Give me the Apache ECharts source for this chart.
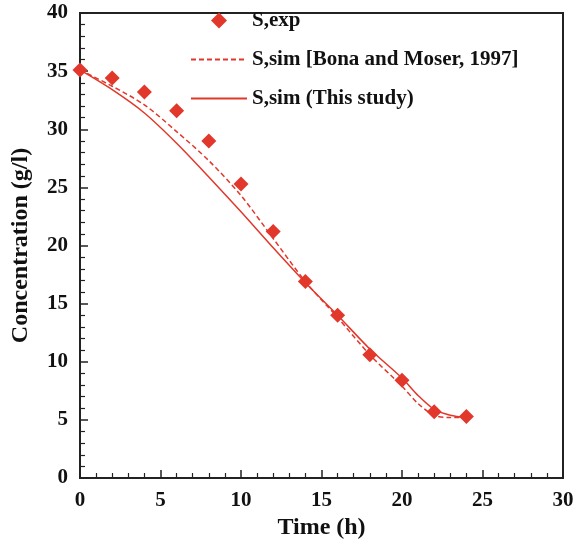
<!DOCTYPE html>
<html>
<head>
<meta charset="utf-8">
<script src="https://cdn.jsdelivr.net/npm/echarts@6/dist/echarts.min.js"></script>
<style>
  html, body { margin: 0; padding: 0; background: #fff; }
  #chart { width: 580px; height: 545px; }
</style>
</head>
<body>
<div id="chart"></div>
<script>
// experimental points
const expTime = [0, 2, 4, 6, 8, 10, 12, 14, 16, 18, 20, 22, 24];
const expConc = [35.1, 34.4, 33.2, 31.6, 29.0, 25.3, 21.2, 16.9, 14.0, 10.6, 8.4, 5.7, 5.3];

// simulated curves
const simTime = [0, 2, 4, 6, 8, 10, 12, 14, 16, 18, 20, 21, 22, 23, 24];
const simBona = [35.1, 33.7, 32.1, 29.8, 27.3, 24.3, 20.6, 16.9, 13.8, 10.6, 7.9, 6.4, 5.4, 5.2, 5.2];
const simStudy = [35.1, 33.4, 31.4, 28.8, 25.9, 22.9, 19.8, 16.8, 14.0, 11.1, 8.6, 7.1, 5.9, 5.4, 5.2];

const seriesNames = ['S,exp', 'S,sim [Bona and Moser, 1997]', 'S,sim (This study)'];

const red = '#e2372b';
const font = '"Liberation Serif", "Times New Roman", serif';

const pairs = (xs, ys) => xs.map((x, i) => [x, ys[i]]);

const axisCommon = {
  min: 0,
  interval: 5,
  axisLine: { onZero: false, lineStyle: { color: '#222', width: 2 } },
  axisTick: { inside: true, length: 8, lineStyle: { color: '#222', width: 1.5 } },
  minorTick: { show: true, splitNumber: 5, length: 5, lineStyle: { color: '#222', width: 1.2 } },
  splitLine: { show: false },
  axisLabel: { color: '#111', fontFamily: font, fontWeight: 'bold', fontSize: 21 },
  nameTextStyle: { color: '#111', fontFamily: font, fontWeight: 'bold', fontSize: 24 },
  nameLocation: 'middle'
};

const chart = echarts.init(document.getElementById('chart'));
chart.setOption({
  animation: false,
  grid: {
    left: 80, right: 17, top: 13, bottom: 67,
    show: true, borderColor: '#222', borderWidth: 2
  },
  legend: {
    orient: 'vertical',
    left: 185,
    top: 5,
    itemWidth: 56,
    itemHeight: 16,
    itemGap: 18,
    textStyle: { color: '#111', fontFamily: font, fontWeight: 'bold', fontSize: 21 },
    data: [
      { name: seriesNames[0], icon: 'path://M0,-1L1,0L0,1L-1,0Z' },
      { name: seriesNames[1], itemStyle: { opacity: 0 } },
      { name: seriesNames[2], itemStyle: { opacity: 0 } }
    ]
  },
  xAxis: Object.assign({}, axisCommon, {
    type: 'value',
    max: 30,
    name: 'Time (h)',
    nameGap: 34,
    axisLabel: Object.assign({}, axisCommon.axisLabel, { margin: 12 })
  }),
  yAxis: Object.assign({}, axisCommon, {
    type: 'value',
    max: 40,
    name: 'Concentration (g/l)',
    nameGap: 47,
    axisLabel: Object.assign({}, axisCommon.axisLabel, { margin: 12 })
  }),
  series: [
    {
      name: seriesNames[0],
      type: 'scatter',
      symbol: 'diamond',
      symbolSize: 15,
      itemStyle: { color: red, opacity: 1 },
      data: pairs(expTime, expConc),
      z: 5
    },
    {
      name: seriesNames[1],
      type: 'line',
      smooth: 0.3,
      symbol: 'none',
      itemStyle: { color: red },
      lineStyle: { color: red, width: 1.5, type: [5, 3] },
      data: pairs(simTime, simBona)
    },
    {
      name: seriesNames[2],
      type: 'line',
      smooth: 0.3,
      symbol: 'none',
      itemStyle: { color: red },
      lineStyle: { color: red, width: 1.5 },
      data: pairs(simTime, simStudy)
    }
  ]
});
</script>
</body>
</html>
